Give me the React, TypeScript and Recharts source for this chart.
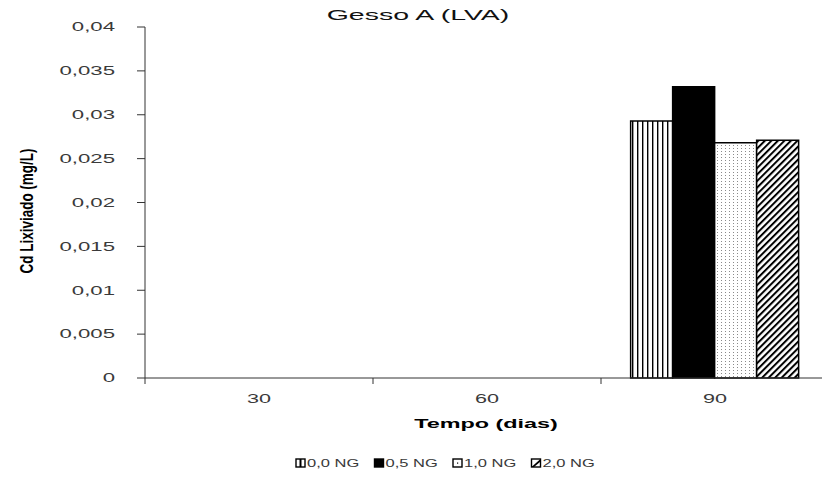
import React from 'react';
import { BarChart, Bar, XAxis, YAxis } from 'recharts';

// Leaching period (days)
const categories = ['30', '60', '90'];
// Leached Cd (mg/L) per gypsum dose; no reading at 30 and 60 days
const dose00 = [null, null, 0.0293];
const dose05 = [null, null, 0.0332];
const dose10 = [null, null, 0.0268];
const dose20 = [null, null, 0.0271];
const seriesNames = ['0,0 NG', '0,5 NG', '1,0 NG', '2,0 NG'];
const yTicks = [0, 0.005, 0.01, 0.015, 0.02, 0.025, 0.03, 0.035, 0.04];

const seriesKeys = ['d00', 'd05', 'd10', 'd20'];
const seriesFills = ['url(#pVert)', '#000000', 'url(#pDots)', 'url(#pDiag)'];

const data = categories.map((c, i) => ({
  dias: c,
  d00: dose00[i],
  d05: dose05[i],
  d10: dose10[i],
  d20: dose20[i],
}));

const FONT = '"Liberation Sans", Arial, sans-serif';
const SX = 1.85; // wide text
const TXT = '#3a3a3a';

const fmt = (v: number) => String(v).replace('.', ',');

const YTick = (props: any) => {
  const { x, y, payload } = props;
  return (
    <g transform={`translate(${x - 20},${y}) scale(${SX},1)`}>
      <text x={0} y={0} dy="0.36em" textAnchor="end" fontSize={12} fill={TXT} fontFamily={FONT}>
        {fmt(payload.value)}
      </text>
    </g>
  );
};

const XTick = (props: any) => {
  const { x, y, payload, index } = props;
  const half = payload && typeof payload.offset === 'number' && payload.offset > 0 ? payload.offset : 114;
  const top = y - 8;
  return (
    <g>
      <line x1={x - half} x2={x - half} y1={top} y2={top + 6} stroke="#333" strokeWidth={1} />
      {index === categories.length - 1 && (
        <line x1={x + half} x2={x + half} y1={top} y2={top + 6} stroke="#333" strokeWidth={1} />
      )}
      <g transform={`translate(${x},${top + 21}) scale(1.8,1)`}>
        <text x={0} y={0} dy="0.36em" textAnchor="middle" fontSize={12} fill={TXT} fontFamily={FONT}>
          {payload.value}
        </text>
      </g>
    </g>
  );
};

const Patterns = () => (
  <defs>
    <pattern id="pVert" patternUnits="userSpaceOnUse" width={5} height={5}>
      <rect width={5} height={5} fill="#fff" />
      <rect x={2} y={0} width={1.4} height={5} fill="#000" />
    </pattern>
    <pattern id="pDots" patternUnits="userSpaceOnUse" width={4} height={3}>
      <rect width={4} height={3} fill="#fff" />
      <rect x={1} y={1} width={1} height={1} fill="#8a8a8a" />
    </pattern>
    <pattern id="pDiag" patternUnits="userSpaceOnUse" width={4.6} height={4.6} patternTransform="rotate(45)">
      <rect width={4.6} height={4.6} fill="#fff" />
      <rect x={0} y={0} width={2} height={4.6} fill="#000" />
    </pattern>
  </defs>
);

// Small legend swatches for each dose
const LegendIcon = ({ i, x, y }: { i: number; x: number; y: number }) => {
  const w = 9;
  const h = 8;
  return (
    <g>
      <rect x={x} y={y} width={w} height={h} fill={i === 1 ? '#000' : '#fff'} stroke="#000" strokeWidth={1.4} />
      {i === 0 && <rect x={x + 3.5} y={y} width={2} height={h} fill="#000" />}
      {i === 2 && <rect x={x + 4} y={y + 3.5} width={1.2} height={1.2} fill="#000" />}
      {i === 3 && <polygon points={`${x},${y + h} ${x + w},${y} ${x + w},${y + 2.5} ${x + 2.5},${y + h}`} fill="#000" />}
    </g>
  );
};

export default function App() {
  return (
    <div
      style={{
        position: 'absolute',
        left: 0,
        top: 0,
        width: 822,
        height: 478,
        overflow: 'hidden',
        background: '#fff',
        fontFamily: FONT,
      }}
    >
      <BarChart
        width={830}
        height={478}
        data={data}
        margin={{ top: 27, right: 1, bottom: 70, left: 85 }}
        barCategoryGap="13%"
        barGap={0}
      >
        <Patterns />
        <YAxis
          width={60}
          domain={[0, 0.04]}
          ticks={yTicks}
          interval={0}
          tickSize={8}
          tick={<YTick />}
          axisLine={{ stroke: '#333' }}
          tickLine={{ stroke: '#333' }}
        />
        <XAxis
          dataKey="dias"
          height={30}
          tickLine={false}
          tick={<XTick />}
          axisLine={{ stroke: '#333' }}
        />
        {seriesKeys.map((k, i) => (
          <Bar
            key={k}
            dataKey={k}
            name={seriesNames[i]}
            fill={seriesFills[i]}
            stroke="#000"
            strokeWidth={1.5}
            isAnimationActive={false}
          />
        ))}
      </BarChart>

      <svg
        width={822}
        height={478}
        style={{ position: 'absolute', left: 0, top: 0, pointerEvents: 'none' }}
      >
        <g transform="translate(418,15) scale(1.9,1)">
          <text x={0} y={0} dy="0.36em" textAnchor="middle" fontSize={15} fill="#111" fontFamily={FONT}>
            Gesso A (LVA)
          </text>
        </g>
        <g transform="translate(26,211) scale(1.4,1) rotate(-90)">
          <text x={0} y={0} dy="0.36em" textAnchor="middle" fontSize={13.5} fontWeight="bold" fill="#000" fontFamily={FONT}>
            Cd Lixiviado (mg/L)
          </text>
        </g>
        <g transform="translate(486,423) scale(1.8,1)">
          <text x={0} y={0} dy="0.36em" textAnchor="middle" fontSize={13} fontWeight="bold" fill="#000" fontFamily={FONT}>
            Tempo (dias)
          </text>
        </g>
        {seriesNames.map((n, i) => {
          const x0 = 296 + i * 78.5;
          return (
            <g key={n}>
              <LegendIcon i={i} x={x0} y={459} />
              <g transform={`translate(${x0 + 11},463.5) scale(1.5,1)`}>
                <text x={0} y={0} dy="0.36em" fontSize={11} fill={TXT} fontFamily={FONT}>
                  {n}
                </text>
              </g>
            </g>
          );
        })}
      </svg>
    </div>
  );
}
